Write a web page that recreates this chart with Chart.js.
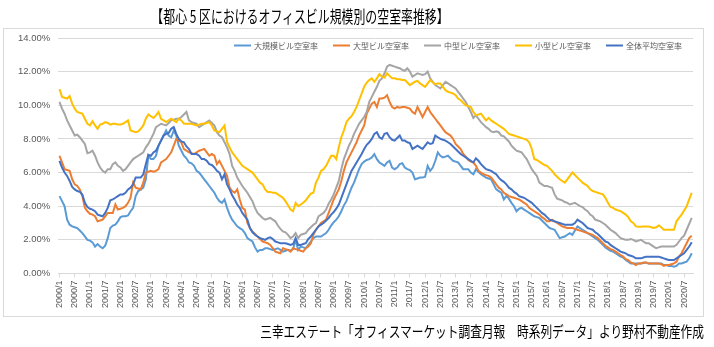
<!DOCTYPE html>
<html>
<head>
<meta charset="utf-8">
<script src="https://cdn.jsdelivr.net/npm/chart.js@4.4.1/dist/chart.umd.min.js"></script>
<style>
html,body{margin:0;padding:0;background:#fff;width:714px;height:347px;overflow:hidden;}
#frame{position:absolute;left:3px;top:28px;width:701px;height:289px;border:1px solid #d9d9d9;box-sizing:border-box;}
#c{position:absolute;left:0;top:0;}
.jp{font-family:'Noto Sans CJK JP',sans-serif;white-space:nowrap;position:absolute;color:#000;line-height:1;}
#title{left:300px;top:7px;font-size:17px;transform-origin:center center;transform:translateX(-50%) scaleX(0.7);}
#note{left:704px;top:323px;font-size:15px;transform-origin:right center;transform:translateX(-100%) scaleX(0.78);}
</style>
</head>
<body>
<div id="frame"></div>
<canvas id="c" width="714" height="347"></canvas>
<div id="title" class="jp">【都心 5 区におけるオフィスビル規模別の空室率推移】</div>
<div id="note" class="jp">三幸エステート「オフィスマーケット調査月報　時系列データ」より野村不動産作成</div>
<script>
// categories: monthly 2000/1 .. 2020/10
const years = [2000,2001,2002,2003,2004,2005,2006,2007,2008,2009,2010,2011,2012,2013,2014,2015,2016,2017,2018,2019,2020];
const lastMonth2020 = 10;
const categories = [];
years.forEach(y => { for (let m = 1; m <= 12; m++) { if (y === 2020 && m > lastMonth2020) break; categories.push(y + '/' + m); } });
// tick labels shown every 6 months
const tickLabels = categories.map(c => (/\/(1|7)$/.test(c) ? c : ''));

const seriesNames = ['大規模ビル空室率','大型ビル空室率','中型ビル空室率','小型ビル空室率','全体平均空室率'];

const largeScale = [
4.6,4.3,4.0,3.2,2.9,2.8,2.75,2.7,2.55,2.4,2.2,2.0,
1.95,1.85,1.6,1.75,1.6,1.5,1.65,2.1,2.7,2.85,2.9,3.1,
3.35,3.4,3.4,3.45,3.7,3.9,4.6,4.9,5.0,5.1,5.6,7.0,
6.8,6.8,7.0,7.6,7.9,8.2,8.5,8.2,8.1,8.5,8.2,7.6,
7.3,7.0,6.85,6.6,6.55,6.4,6.1,6.0,5.8,5.6,5.4,5.2,
5.0,4.8,4.5,4.3,4.2,4.4,3.9,3.5,3.2,3.0,2.8,2.7,
2.6,2.4,2.1,2.0,1.9,1.55,1.3,1.4,1.4,1.5,1.5,1.45,
1.4,1.45,1.5,1.4,1.3,1.35,1.4,1.35,1.45,2.0,1.4,1.6,
1.55,1.5,1.7,1.9,2.1,2.2,2.2,2.2,2.3,2.4,2.6,2.85,
3.05,3.2,3.4,3.7,4.05,4.3,4.7,5.1,5.4,5.8,6.2,6.5,
6.65,6.75,6.8,6.9,7.1,6.8,6.6,6.5,6.4,6.6,6.7,6.3,
6.2,6.3,6.5,6.55,6.3,6.2,6.15,6.0,5.6,5.65,5.7,5.7,
5.75,6.4,6.1,6.3,6.7,7.2,7.0,6.9,6.95,7.0,6.85,6.7,
6.65,6.6,6.4,6.2,6.2,6.2,6.0,5.9,6.2,6.05,5.9,5.8,
5.7,5.65,5.6,5.3,5.0,4.9,4.8,4.4,4.6,4.45,4.2,4.0,
3.7,3.85,3.9,3.8,3.7,3.6,3.5,3.4,3.35,3.3,3.15,3.0,
2.85,2.7,2.65,2.6,2.35,2.1,2.15,2.2,2.3,2.4,2.3,2.55,
2.8,2.7,2.6,2.5,2.4,2.3,2.2,2.1,2.0,1.85,1.7,1.55,
1.45,1.35,1.3,1.2,1.1,1.0,0.95,0.8,0.7,0.6,0.6,0.6,
0.6,0.6,0.62,0.65,0.6,0.6,0.6,0.6,0.6,0.6,0.5,0.5,
0.45,0.45,0.4,0.45,0.6,0.6,0.65,0.7,0.9,1.2];

const largeSize = [
7.0,6.6,6.2,6.15,6.1,5.6,5.3,5.2,5.0,4.6,3.9,3.7,
3.55,3.5,3.4,3.1,3.15,3.2,3.4,3.6,3.6,3.6,4.1,3.8,
3.85,3.9,4.0,4.2,4.5,5.4,5.1,5.05,5.0,5.4,6.0,6.05,
6.1,6.05,6.1,6.2,6.6,6.7,6.8,7.0,7.2,7.6,8.0,7.9,
7.8,7.4,7.3,7.2,7.15,7.1,7.2,7.3,7.35,7.4,7.2,7.0,
7.1,7.0,6.5,6.7,6.4,6.1,5.8,5.1,4.9,4.8,5.0,4.4,
3.9,3.8,3.0,2.7,2.5,2.35,2.2,2.05,1.9,1.85,1.8,1.7,
1.5,1.3,1.25,1.2,1.5,1.45,1.4,1.3,1.5,1.45,1.4,1.35,
1.3,1.5,1.6,1.8,2.3,2.6,2.8,3.0,3.1,3.2,3.6,4.0,
4.4,4.7,5.0,5.5,6.1,6.6,6.9,7.2,7.5,7.8,8.2,8.5,
8.8,9.5,9.8,10.1,10.2,9.9,10.4,10.4,10.45,10.6,10.2,9.9,
9.8,9.9,9.85,9.9,9.9,9.85,9.8,9.6,9.5,9.9,9.6,9.3,
9.6,9.9,9.6,9.4,9.2,9.0,8.8,8.6,8.4,8.3,8.2,8.0,
7.7,7.55,7.4,7.1,6.95,6.75,6.65,6.6,6.4,6.1,6.0,5.9,
5.85,5.8,5.7,5.5,5.3,5.1,5.0,4.8,4.7,4.6,4.55,4.5,
4.45,4.4,4.3,4.2,4.1,3.9,3.8,3.7,3.6,3.5,3.35,3.25,
3.1,3.1,3.2,3.1,3.0,2.9,2.8,2.75,2.7,2.7,2.7,2.65,
2.6,2.55,2.5,2.45,2.4,2.35,2.3,2.2,2.1,1.95,1.8,1.65,
1.55,1.45,1.4,1.3,1.2,1.1,1.0,0.85,0.8,0.65,0.6,0.5,
0.6,0.6,0.65,0.65,0.6,0.6,0.6,0.6,0.6,0.55,0.45,0.5,
0.5,0.55,0.6,0.7,1.0,1.2,1.5,1.8,2.1,2.25];

const mediumSize = [
10.2,9.8,9.5,9.1,8.8,8.5,8.2,8.25,8.1,7.9,7.7,7.15,
7.2,7.3,7.0,6.6,6.3,6.1,6.0,6.2,6.2,6.5,6.6,6.4,
6.3,6.1,6.2,6.4,6.6,6.8,6.9,7.0,7.1,7.2,7.5,7.7,
8.0,8.3,8.7,8.8,8.9,8.85,8.8,8.95,9.1,9.15,9.2,9.2,
9.3,9.45,9.6,9.1,9.0,8.95,8.9,8.7,8.8,8.9,9.0,9.1,
8.95,8.8,8.4,8.2,8.1,7.8,7.5,7.1,6.4,6.1,5.7,5.45,
5.2,5.0,4.8,4.55,4.3,3.9,3.6,3.45,3.3,3.2,3.25,3.3,
3.2,3.1,2.85,2.65,2.5,2.45,2.3,2.1,2.2,2.4,2.1,2.3,
2.35,2.4,2.6,2.75,2.9,3.0,3.4,3.5,3.6,3.8,4.15,4.4,
4.7,5.1,5.5,6.2,6.8,7.2,7.6,7.9,8.3,8.6,8.9,9.1,
9.3,9.6,10.2,10.5,10.8,11.1,11.45,11.6,11.9,12.3,12.4,12.35,
12.3,12.25,12.2,12.1,12.05,12.2,12.0,11.7,11.8,11.9,11.85,11.8,
11.85,12.0,11.6,11.4,11.2,11.1,11.0,11.2,11.4,11.3,11.2,11.1,
11.0,10.8,10.6,10.4,10.2,9.9,9.6,9.25,9.4,9.2,9.0,8.85,
8.7,8.6,8.45,8.4,8.45,8.4,8.2,8.15,8.0,7.85,7.6,7.45,
7.3,7.25,7.2,7.0,6.8,6.5,6.2,6.0,5.8,5.4,5.3,5.2,
5.2,5.15,5.1,4.7,4.45,4.4,4.35,4.25,4.2,4.1,4.15,4.2,
4.1,4.0,3.95,3.8,3.7,3.5,3.4,3.2,3.15,3.1,3.0,2.9,
2.75,2.6,2.5,2.4,2.25,2.1,2.05,2.0,2.0,2.05,2.0,1.9,
1.95,2.0,1.9,1.8,1.8,1.7,1.6,1.5,1.55,1.6,1.6,1.6,
1.6,1.6,1.6,1.7,1.9,2.1,2.25,2.6,2.95,3.3];

const smallSize = [
10.96,10.5,10.45,10.4,10.55,10.1,9.8,9.6,9.55,9.5,9.2,8.9,
8.8,9.05,8.8,8.6,8.85,8.9,9.0,8.95,8.85,8.9,8.9,8.85,
8.85,8.9,9.0,9.1,8.5,8.45,8.4,8.45,8.6,8.8,9.2,9.45,
9.35,9.25,9.4,9.6,9.2,9.1,9.0,9.1,9.2,9.1,9.0,9.2,
9.1,8.9,8.9,8.9,8.9,8.85,8.8,8.85,8.9,8.9,8.95,9.0,
8.8,8.5,8.45,8.4,8.6,8.8,7.8,7.5,7.2,7.0,6.8,6.6,
6.4,6.3,6.2,6.1,6.0,5.8,5.6,5.4,5.3,5.0,4.85,4.85,
4.8,4.8,4.7,4.6,4.5,4.3,4.05,3.8,3.7,4.2,4.0,4.1,
4.2,4.35,4.55,4.75,4.8,5.4,5.7,6.1,6.2,6.4,6.7,7.0,
7.0,6.8,7.5,8.1,8.5,9.0,9.2,9.35,9.6,9.9,10.3,10.7,
11.1,11.35,11.5,11.6,11.4,11.6,11.85,11.7,11.65,11.9,11.75,11.6,
11.6,11.55,11.55,11.5,11.5,11.35,11.2,11.3,11.4,11.45,11.3,11.2,
11.1,11.3,11.5,11.35,11.25,11.3,11.3,11.1,10.9,10.8,10.75,10.7,
10.6,10.4,10.3,10.15,10.0,9.95,9.9,9.6,9.4,9.45,9.5,9.3,
9.1,9.25,9.1,9.0,8.9,8.8,8.7,8.6,8.45,8.3,8.25,8.2,
8.15,8.1,8.05,8.0,7.95,7.8,7.4,6.8,6.75,6.65,6.55,6.45,
6.4,6.25,6.1,5.9,5.75,5.6,5.5,5.4,5.6,5.8,6.0,5.85,
5.7,5.55,5.4,5.3,5.2,5.0,4.9,4.85,4.8,4.75,4.7,4.5,
4.2,3.95,3.9,3.8,3.75,3.7,3.6,3.5,3.35,3.1,3.0,2.8,
2.78,2.78,2.8,2.8,2.8,2.75,2.7,2.75,2.85,2.75,2.6,2.6,
2.6,2.6,2.6,3.1,3.3,3.5,3.75,4.0,4.4,4.8];

const overall = [
6.7,6.3,6.0,5.8,5.5,5.15,5.0,4.9,4.85,4.7,4.2,3.95,
3.85,3.8,3.7,3.5,3.45,3.4,3.6,3.9,4.35,4.4,4.5,4.6,
4.7,4.7,4.8,5.0,5.1,5.3,5.7,5.7,5.7,5.9,6.5,7.05,
7.0,7.2,7.3,7.6,7.9,8.2,8.3,8.35,8.6,8.7,8.3,8.0,
7.85,7.8,7.55,7.4,7.1,7.1,7.1,7.0,6.8,6.8,6.7,6.5,
6.45,6.3,6.1,6.0,5.6,5.9,5.3,5.0,4.65,4.4,4.1,3.9,
3.6,3.4,3.2,2.7,2.45,2.3,2.2,2.1,2.05,2.0,2.1,2.15,
2.05,1.9,1.85,1.8,1.8,1.8,1.75,1.7,1.75,2.1,1.7,1.7,
1.75,1.8,2.05,2.2,2.4,2.6,2.8,2.9,3.0,3.15,3.3,3.5,
3.65,3.85,4.1,4.5,4.9,5.3,5.7,6.1,6.35,6.6,6.85,7.1,
7.4,7.65,7.8,8.0,8.3,8.4,8.1,8.0,8.3,8.35,8.1,7.95,
7.9,8.05,8.2,7.9,7.9,7.8,7.75,7.4,7.5,7.6,7.5,7.4,
7.6,7.8,7.7,7.75,8.2,8.1,8.0,7.95,7.9,7.8,7.7,7.55,
7.4,7.25,7.1,7.0,6.9,6.8,6.7,6.6,6.85,6.7,6.5,6.35,
6.2,6.15,6.1,6.0,5.9,5.7,5.55,5.45,5.3,5.1,5.0,4.85,
4.75,4.6,4.55,4.5,4.4,4.3,4.2,4.05,3.9,3.75,3.6,3.5,
3.35,3.2,3.15,3.1,3.05,3.0,2.95,2.9,2.9,2.9,2.9,3.0,
3.2,3.1,3.0,2.85,2.7,2.65,2.6,2.45,2.35,2.2,2.05,1.9,
1.85,1.7,1.6,1.5,1.4,1.3,1.25,1.2,1.1,1.05,1.0,0.9,
0.9,0.9,0.95,1.0,1.0,1.0,1.0,1.0,1.0,0.95,0.9,0.85,
0.8,0.8,0.8,0.9,1.0,1.1,1.2,1.4,1.6,1.85];

const yTicks = [0,2,4,6,8,10,12,14];

const seriesValues = [largeScale, largeSize, mediumSize, smallSize, overall];
const colors = ['#5B9BD5','#ED7D31','#A5A5A5','#FFC000','#4472C4'];
const drawOrder = [5,4,3,2,1];

const datasets = seriesValues.map((vals, i) => ({
  label: seriesNames[i],
  data: vals,
  borderColor: colors[i],
  backgroundColor: colors[i],
  borderWidth: 2,
  pointRadius: 0,
  pointHoverRadius: 0,
  tension: 0,
  fill: false,
  order: drawOrder[i]
}));

const numFont = "'Liberation Sans', Arial, sans-serif";
const jpFont = "'Noto Sans CJK JP', sans-serif";

// legend drawn inside the plot area, one row, right-aligned (as in the Excel original)
const inlineLegend = {
  id: 'inlineLegend',
  afterDatasetsDraw(chart) {
    const { ctx, chartArea } = chart;
    ctx.save();
    ctx.font = '8px ' + jpFont;
    const lineW = 17, gapText = 3, gapItem = 15;
    const items = chart.data.datasets.map(d => ({ text: d.label, color: d.borderColor, lw: d.borderWidth, w: ctx.measureText(d.label).width }));
    const total = items.reduce((s, it) => s + lineW + gapText + it.w, 0) + gapItem * (items.length - 1);
    let x = chartArea.right - 11 - total;
    const y = chartArea.top + 7.5;
    ctx.textBaseline = 'middle';
    ctx.textAlign = 'left';
    items.forEach(it => {
      ctx.strokeStyle = it.color;
      ctx.lineWidth = it.lw;
      ctx.beginPath();
      ctx.moveTo(x, y);
      ctx.lineTo(x + lineW, y);
      ctx.stroke();
      ctx.fillStyle = '#595959';
      ctx.fillText(it.text, x + lineW + gapText, y + 0.5);
      x += lineW + gapText + it.w + gapItem;
    });
    ctx.restore();
  }
};

new Chart(document.getElementById('c'), {
  type: 'line',
  data: { labels: categories, datasets },
  plugins: [inlineLegend],
  options: {
    responsive: false,
    animation: false,
    events: [],
    layout: { padding: { left: 10, right: 21, top: 38, bottom: 36 } },
    plugins: {
      title: { display: false },
      tooltip: { enabled: false },
      legend: { display: false }
    },
    scales: {
      x: {
        type: 'category',
        offset: true,
        grid: {
          drawOnChartArea: false,
          tickLength: 4,
          color: ctx => (ctx.index % 6 === 0 ? '#d9d9d9' : 'rgba(0,0,0,0)')
        },
        border: { color: '#d9d9d9' },
        ticks: {
          autoSkip: false,
          maxRotation: 90,
          minRotation: 90,
          padding: 3,
          color: '#595959',
          font: { size: 9, family: numFont },
          callback: (v, i) => tickLabels[i]
        }
      },
      y: {
        min: yTicks[0],
        max: yTicks[yTicks.length - 1],
        afterBuildTicks: s => { s.ticks = yTicks.map(v => ({ value: v })); },
        grid: { color: '#d9d9d9', drawTicks: false },
        border: { display: false },
        ticks: {
          padding: 8,
          color: '#595959',
          font: { size: 9.5, family: numFont },
          callback: v => v.toFixed(2) + '%'
        }
      }
    }
  }
});
</script>
</body>
</html>
